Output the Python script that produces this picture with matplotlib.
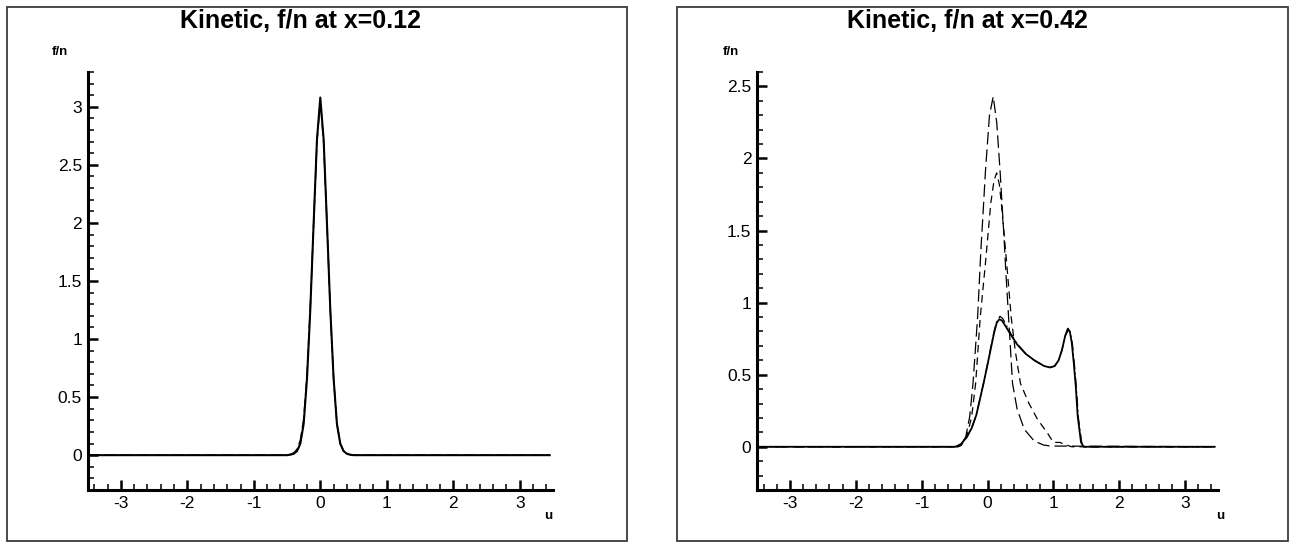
import numpy as np
import matplotlib
matplotlib.use('Agg')
import matplotlib.pyplot as plt
from matplotlib.ticker import MultipleLocator
from matplotlib.patches import Rectangle

plt.rcParams['font.family'] = ['Liberation Sans', 'DejaVu Sans']

# left panel, x=0.12 : both curves almost on top of each other
u_left = [-3.5, -0.5, -0.45, -0.4, -0.35, -0.3, -0.25, -0.2, -0.15, -0.1, -0.05, 0.0,
          0.05, 0.1, 0.15, 0.2, 0.25, 0.3, 0.35, 0.4, 0.45, 0.5, 3.45]
f_left_solid = [0, 0, 0.004, 0.012, 0.035, 0.1, 0.27, 0.66, 1.26, 2.0, 2.72, 3.08,
                2.72, 2.0, 1.26, 0.66, 0.27, 0.1, 0.035, 0.012, 0.004, 0, 0]
f_left_dash = [0, 0, 0.007, 0.02, 0.05, 0.13, 0.31, 0.69, 1.28, 2.0, 2.7, 3.05,
               2.7, 2.0, 1.25, 0.66, 0.27, 0.1, 0.035, 0.012, 0.004, 0, 0]

# right panel, x=0.42
u_solid = [-3.5, -0.5, -0.46, -0.4, -0.31, -0.24, -0.17, -0.06, 0.0, 0.05, 0.1, 0.14,
           0.18, 0.22, 0.27, 0.35, 0.45, 0.58, 0.71, 0.86, 0.95, 1.02, 1.08, 1.13,
           1.18, 1.22, 1.25, 1.28, 1.31, 1.34, 1.37, 1.42, 1.46, 3.45]
f_solid = [0, 0, 0.005, 0.02, 0.07, 0.13, 0.22, 0.44, 0.57, 0.68, 0.79, 0.86,
           0.885, 0.875, 0.84, 0.78, 0.71, 0.645, 0.6, 0.56, 0.55, 0.56, 0.6, 0.67,
           0.77, 0.82, 0.8, 0.72, 0.58, 0.42, 0.21, 0.03, 0, 0]
u_dashdot = [-3.5, -0.5, -0.46, -0.4, -0.31, -0.24, -0.17, -0.06, 0.0, 0.05, 0.1, 0.14,
             0.19, 0.23, 0.28, 0.36, 0.46, 0.58, 0.71, 0.86, 0.95, 1.02, 1.08, 1.13,
             1.18, 1.23, 1.26, 1.29, 1.32, 1.35, 1.38, 1.43, 1.48, 3.45]
f_dashdot = [0, 0, 0.005, 0.02, 0.07, 0.13, 0.22, 0.44, 0.57, 0.69, 0.8, 0.87,
             0.905, 0.89, 0.85, 0.78, 0.71, 0.645, 0.6, 0.56, 0.55, 0.56, 0.6, 0.67,
             0.77, 0.81, 0.79, 0.71, 0.57, 0.41, 0.2, 0.03, 0, 0]
u_tall = [-3.5, -0.45, -0.4, -0.33, -0.27, -0.22, -0.15, -0.1, -0.07, -0.03, 0.03, 0.087,
          0.14, 0.19, 0.25, 0.28, 0.32, 0.38, 0.45, 0.56, 0.71, 0.85, 0.96, 3.45]
f_tall = [0, 0, 0.01, 0.07, 0.21, 0.44, 0.9, 1.37, 1.6, 1.92, 2.3, 2.43,
          2.25, 1.92, 1.46, 1.2, 0.9, 0.44, 0.26, 0.12, 0.04, 0.012, 0.005, 0]
u_mid = [-3.5, -0.45, -0.4, -0.32, -0.24, -0.18, -0.11, -0.03, 0.05, 0.1, 0.14, 0.18,
         0.21, 0.29, 0.36, 0.42, 0.5, 0.63, 0.76, 0.91, 1.0, 1.1, 1.18, 1.28, 3.45]
f_mid = [0, 0, 0.01, 0.06, 0.21, 0.44, 0.9, 1.28, 1.69, 1.85, 1.9, 1.82,
         1.69, 1.28, 0.9, 0.67, 0.44, 0.30, 0.19, 0.095, 0.03, 0.03, 0.015, 0, 0]

fig = plt.figure(figsize=(12.91, 5.48), dpi=100)
W, H = 1291.0, 548.0

# outer frames around each panel
for x0, x1 in [(7, 627), (677, 1288)]:
    fig.patches.append(Rectangle((x0 / W, 1 - 541 / H), (x1 - x0) / W, (541 - 7) / H,
                                 transform=fig.transFigure, fill=False,
                                 edgecolor='#3c3c3c', linewidth=1.3))

ax1 = fig.add_axes([87.6 / W, 1 - 490 / H, (553 - 87.6) / W, (490 - 72) / H])
ax2 = fig.add_axes([757 / W, 1 - 490 / H, (1218 - 757) / W, (490 - 72) / H])

ax1.plot(u_left, f_left_solid, color='black', lw=1.5)
ax1.plot(u_left, f_left_dash, color='black', lw=1.0, ls=(0, (9, 3)))
ax1.set_ylim(-0.3, 3.3)

ax2.plot(u_tall, f_tall, color='black', lw=0.9, ls=(0, (10, 4)))
ax2.plot(u_mid, f_mid, color='black', lw=0.9, ls=(0, (6, 4)))
ax2.plot(u_dashdot, f_dashdot, color='black', lw=0.9, ls=(0, (8, 3, 1, 3)))
ax2.plot(u_solid, f_solid, color='black', lw=1.3)
ax2.set_ylim(-0.3, 2.6)

for ax in (ax1, ax2):
    ax.set_xlim(-3.5, 3.5)
    ax.xaxis.set_major_locator(MultipleLocator(1))
    ax.xaxis.set_minor_locator(MultipleLocator(0.2))
    ax.yaxis.set_major_locator(MultipleLocator(0.5))
    ax.yaxis.set_minor_locator(MultipleLocator(0.1))
    ax.yaxis.set_major_formatter(plt.FuncFormatter(lambda v, p: '%g' % v))
    ax.xaxis.set_major_formatter(plt.FuncFormatter(lambda v, p: '%g' % v))
    ax.spines['top'].set_visible(False)
    ax.spines['right'].set_visible(False)
    ax.spines['left'].set_linewidth(2.2)
    ax.spines['bottom'].set_linewidth(2.2)
    ax.tick_params(which='major', direction='in', length=7.5, width=1.8, labelsize=12.5, pad=4)
    ax.tick_params(which='minor', direction='in', length=4.5, width=1.1)
    ax.patch.set_visible(False)

# titles and axis labels
fig.text(300 / W, 1 - 21 / H, 'Kinetic, f/n at x=0.12', ha='center', va='center',
         fontsize=18, fontweight='bold')
fig.text(967 / W, 1 - 21 / H, 'Kinetic, f/n at x=0.42', ha='center', va='center',
         fontsize=18, fontweight='bold')
for xl, xu in [(60, 548), (731, 1220)]:
    fig.text(xl / W, 1 - 52 / H, 'f/n', ha='center', va='center', fontsize=9.5, fontweight='bold')
    fig.text(xu / W, 1 - 516 / H, 'u', ha='center', va='center', fontsize=9.5, fontweight='bold')

fig.savefig('out.png', dpi=100)
